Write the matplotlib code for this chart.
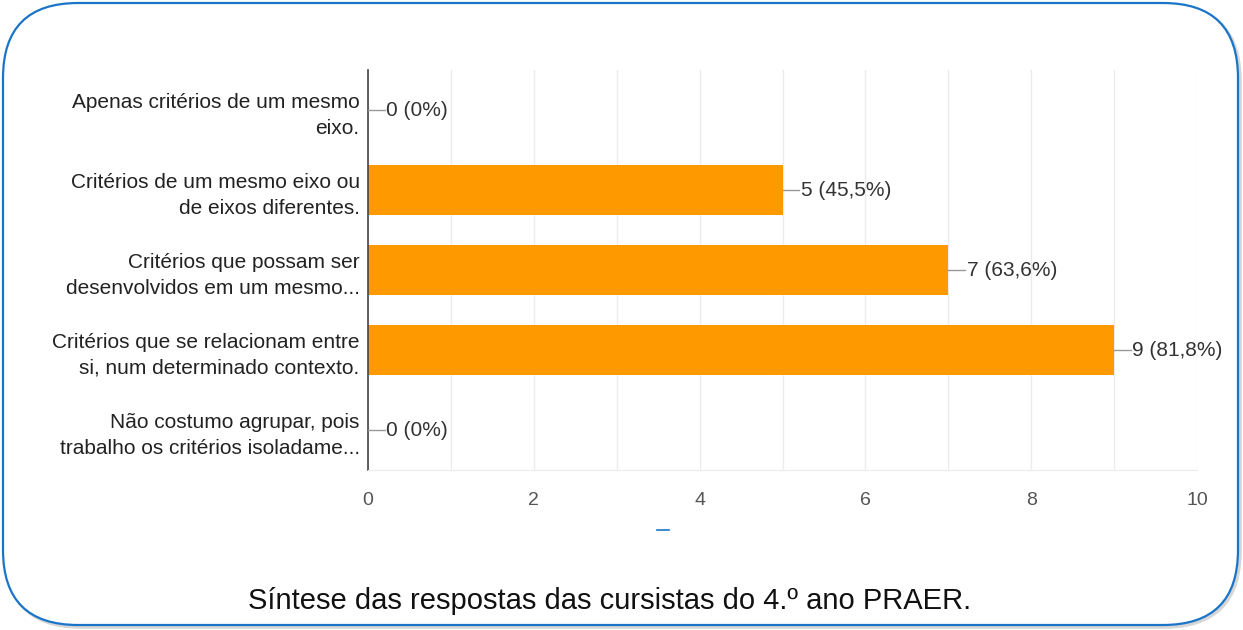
import matplotlib
matplotlib.use("Agg")
import matplotlib.pyplot as plt
from matplotlib.patches import FancyBboxPatch

categories = [
    "Apenas critérios de um mesmo\neixo.",
    "Critérios de um mesmo eixo ou\nde eixos diferentes.",
    "Critérios que possam ser\ndesenvolvidos em um mesmo...",
    "Critérios que se relacionam entre\nsi, num determinado contexto.",
    "Não costumo agrupar, pois\ntrabalho os critérios isoladame...",
]
values = [0, 5, 7, 9, 0]
value_labels = ["0 (0%)", "5 (45,5%)", "7 (63,6%)", "9 (81,8%)", "0 (0%)"]
xticks = [0, 2, 4, 6, 8, 10]
caption = "Síntese das respostas das cursistas do 4.º ano PRAER."

W, H = 1243, 630
fig = plt.figure(figsize=(W / 100, H / 100), dpi=100)
fig.patch.set_facecolor("white")

# background overlay in pixel coordinates for the rounded border
bg = fig.add_axes([0, 0, 1, 1], zorder=0)
bg.set_xlim(0, W)
bg.set_ylim(H, 0)
bg.axis("off")
shadow = FancyBboxPatch((6, 6), W - 10, H - 10,
                        boxstyle="round,pad=0,rounding_size=75",
                        linewidth=4, edgecolor="#d6d6d6", facecolor="none")
bg.add_patch(shadow)
border = FancyBboxPatch((3, 3), W - 8, H - 8,
                        boxstyle="round,pad=0,rounding_size=75",
                        linewidth=1.6, edgecolor="#1a75c9", facecolor="white")
bg.add_patch(border)
bg.plot([657, 669], [530, 530], color="#1a75c9", lw=1.2)
bg.text(610, 601, caption, ha="center", va="center", fontsize=21,
        family="Liberation Sans", color="#111111")

ax = fig.add_axes([368 / W, 1 - 470 / H, (1197 - 368) / W, 400 / H], zorder=1)
ax.patch.set_alpha(0)
y = list(range(len(categories)))
ax.barh(y, values, height=0.62, color="#ff9900", zorder=2)
ax.set_xlim(0, 10)
ax.set_ylim(len(categories) - 0.5, -0.5)
ax.set_xticks(xticks)
ax.set_xticks(range(0, 11), minor=True)
ax.grid(axis="x", which="both", color="#ebebeb", lw=1, zorder=0)
ax.set_yticks(y)
ax.set_yticklabels(categories, fontsize=15, family="Liberation Sans",
                   color="#222222", linespacing=1.45)
ax.tick_params(axis="y", length=0, pad=6)
ax.tick_params(axis="x", which="both", length=0, pad=16, labelsize=14,
               labelcolor="#555555")
for lbl in ax.get_xticklabels():
    lbl.set_family("Liberation Sans")
for s in ["top", "right"]:
    ax.spines[s].set_visible(False)
ax.spines["bottom"].set_color("#ebebeb")
ax.spines["left"].set_color("#444444")
ax.spines["left"].set_linewidth(1.2)

for yi, v, lab in zip(y, values, value_labels):
    ax.plot([v, v + 0.2], [yi, yi], color="#999999", lw=1, zorder=3,
            clip_on=False)
    ax.text(v + 0.22, yi, lab, va="center", ha="left", fontsize=15,
            family="Liberation Sans", color="#333333")

fig.savefig("out.png", dpi=100)
